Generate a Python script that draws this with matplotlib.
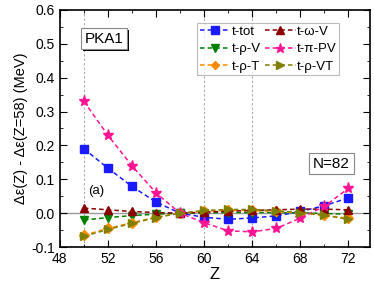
import numpy as np
import matplotlib
matplotlib.use("Agg")
import matplotlib.pyplot as plt
from matplotlib.ticker import MultipleLocator, FormatStrFormatter
import matplotlib.patheffects as pe

plt.rcParams['font.family'] = ['Liberation Sans', 'DejaVu Sans']

Z = [50, 52, 54, 56, 58, 60, 62, 64, 66, 68, 70, 72]
t_tot = [0.19, 0.133, 0.079, 0.033, 0.0, -0.012, -0.018, -0.014, -0.008, 0.005, 0.022, 0.045]
t_omega_V = [0.015, 0.010, 0.005, 0.002, 0.0, 0.003, 0.006, 0.008, 0.010, 0.012, 0.012, 0.010]
t_rho_V = [-0.020, -0.013, -0.007, -0.003, 0.0, 0.001, 0.002, 0.002, 0.002, 0.001, -0.001, -0.003]
t_pi_PV = [0.33, 0.23, 0.14, 0.06, 0.0, -0.028, -0.052, -0.055, -0.045, -0.015, 0.020, 0.073]
t_rho_T = [-0.065, -0.045, -0.028, -0.012, 0.0, 0.006, 0.008, 0.008, 0.005, 0.001, -0.006, -0.015]
t_rho_VT = [-0.068, -0.048, -0.030, -0.013, 0.0, 0.008, 0.011, 0.011, 0.007, 0.002, -0.006, -0.018]

# legend fills column-wise: left column first, then right column
series = [
    ("t-tot", t_tot, "#1a1aff", "s", 6),
    ("t-\u03c1-V", t_rho_V, "#008000", "v", 6),
    ("t-\u03c1-T", t_rho_T, "#ff8c00", "D", 5),
    ("t-\u03c9-V", t_omega_V, "#8b0000", "^", 6),
    ("t-\u03c0-PV", t_pi_PV, "#ff1493", "*", 8),
    ("t-\u03c1-VT", t_rho_VT, "#808000", ">", 6),
]

fig = plt.figure(figsize=(3.74, 2.9), dpi=100)
ax = fig.add_axes([0.16, 0.148, 0.829, 0.818])

for x in [50, 60, 64]:
    ax.axvline(x, color="#aaaaaa", ls=(0, (2, 2)), lw=0.8, zorder=0)
ax.axhline(0, color="#999999", lw=1.0, zorder=0)

for name, vals, c, m, ms in series:
    ax.plot(Z, vals, ls=(0, (3, 2)), color=c, marker=m, ms=ms, lw=1.1, label=name)

ax.set_xlim(48, 73.8)
ax.set_ylim(-0.1, 0.6)
ax.xaxis.set_major_locator(MultipleLocator(4))
ax.xaxis.set_minor_locator(MultipleLocator(2))
ax.yaxis.set_major_locator(MultipleLocator(0.1))
ax.yaxis.set_minor_locator(MultipleLocator(0.05))
ax.tick_params(which="both", direction="in", top=True, right=True, labelsize=10)
ax.tick_params(which="major", length=5)
ax.tick_params(which="minor", length=2.5)
ax.yaxis.set_major_formatter(FormatStrFormatter("%.1f"))
for s in ax.spines.values():
    s.set_linewidth(1.2)

ax.set_xlabel("Z", fontsize=12, labelpad=1)
ax.set_ylabel("\u0394\u03b5(Z) - \u0394\u03b5(Z=58) (MeV)", fontsize=10.5, labelpad=2)

leg = ax.legend(ncol=2, loc="upper left", bbox_to_anchor=(0.443, 0.945), fontsize=9.5,
                handlelength=2.3, handletextpad=0.1, columnspacing=0.35, labelspacing=0.4,
                borderpad=0.2, borderaxespad=0, markerscale=0.85, frameon=True,
                fancybox=False, edgecolor="#aaaaaa")
leg.get_frame().set_linewidth(0.8)

bbox = dict(boxstyle="square,pad=0.25", fc="white", ec="#888888", lw=0.8)
t1 = ax.text(0.08, 0.862, "PKA1", transform=ax.transAxes, fontsize=11, bbox=bbox)
t1.get_bbox_patch().set_path_effects([pe.SimplePatchShadow(offset=(1.5, -1.5), shadow_rgbFace="black", alpha=1), pe.Normal()])
ax.text(0.816, 0.335, "N=82", transform=ax.transAxes, fontsize=11, bbox=bbox)
ax.text(0.09, 0.225, "(a)", transform=ax.transAxes, fontsize=9.5)

fig.savefig("out.png", dpi=100)
